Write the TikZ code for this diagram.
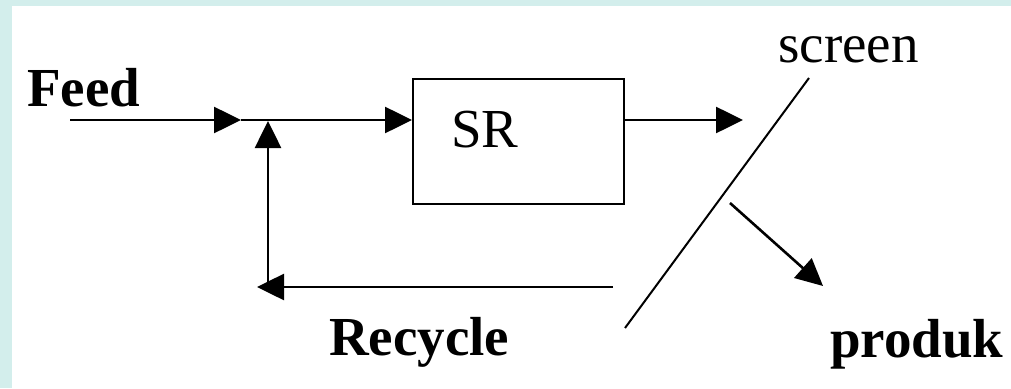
\documentclass[tikz,border=0pt]{standalone}
\usepackage{fontspec}
\setmainfont{Liberation Serif}
\usetikzlibrary{arrows.meta}
\definecolor{bgcyan}{HTML}{D3EEEC}
\tikzset{
  flow/.style={line width=2.6pt,-{Triangle[length=27pt,width=26pt]}},
  plainline/.style={line width=2pt},
  lbl/.style={anchor=base west,inner sep=0pt,font=\fontsize{55}{60}\selectfont},
  blbl/.style={lbl,font=\fontsize{55}{60}\selectfont\bfseries},
  unit/.style={draw,line width=2pt,minimum width=211pt,minimum height=125pt,inner sep=0pt}
}
\begin{document}
\begin{tikzpicture}[x=1pt,y=-1pt]
\fill[bgcyan] (0,0) rectangle (1011,388);
\fill[white] (12,6) rectangle (1011,388);
\useasboundingbox (0,0) rectangle (1011,388);
% nodes
\node[unit] (sr) at (518.5,141.5) {};
\node[lbl] (srtext) at (451,147) {SR};
\node[blbl] (feed) at (27,106) {Feed};
\node[lbl] (screen) at (778,62) {screen};
\node[blbl] (recycle) at (329,355) {Recycle};
\node[blbl] (produk) at (830,357) {produk};
% coordinates
\coordinate (feedstart) at (70,120);
\coordinate (feedtip) at (241,120);
\coordinate (junction) at (268,121);
\coordinate (corner) at (268,287);
\coordinate (recstart) at (613,287);
\coordinate (rectip) at (257,287);
\coordinate (outtip) at (743,120);
\coordinate (screentop) at (809,78);
\coordinate (screenbot) at (625,328);
\coordinate (prodstart) at (730,203);
\coordinate (prodtip) at (823,286);
% connectors
\draw[flow] (feedstart) -- (feedtip);
\draw[flow] (feedtip) -- (sr.west |- feedtip);
\draw[flow] (corner) -- (junction);
\draw[flow] (recstart) -- (rectip);
\draw[flow] (sr.east |- outtip) -- (outtip);
\draw[plainline] (screentop) -- (screenbot);
\draw[flow] (prodstart) -- (prodtip);
\end{tikzpicture}
\end{document}
